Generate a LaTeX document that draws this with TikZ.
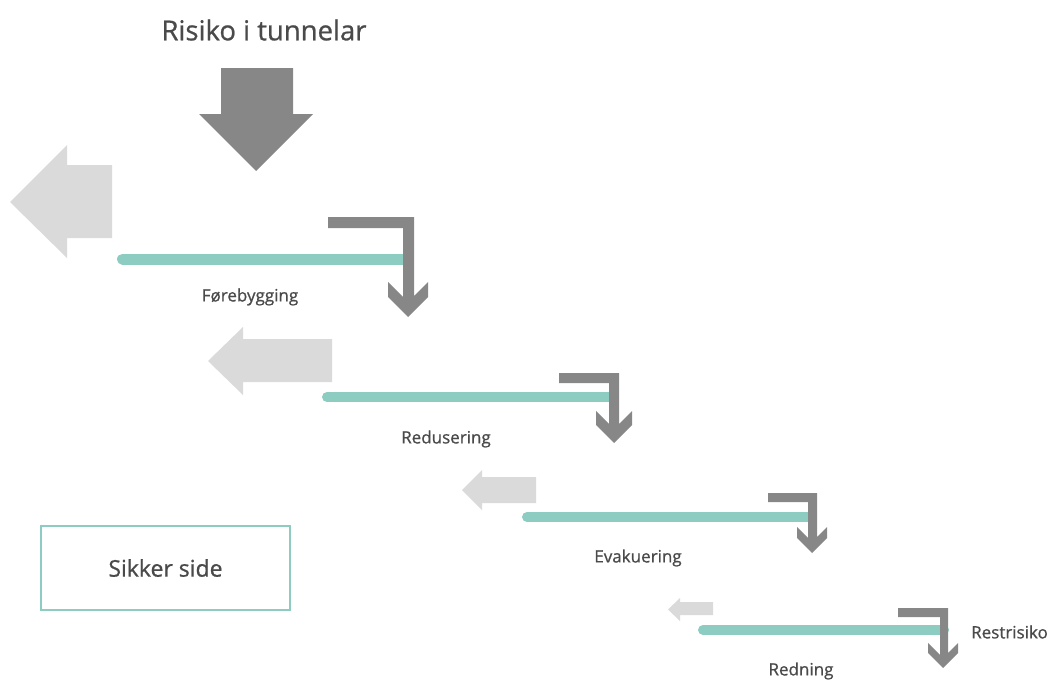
\documentclass[tikz,border=0pt]{standalone}
\usepackage{fontspec}
\setmainfont{Open Sans}[BoldFont={Open Sans},BoldFeatures={FakeBold=0.8}]
\definecolor{darkarrow}{HTML}{878787}
\definecolor{lightarrow}{HTML}{DADADA}
\definecolor{trackteal}{HTML}{8DCCC1}
\definecolor{labelgray}{HTML}{4A4A4A}
\begin{document}
\begin{tikzpicture}[x=1pt,y=-1pt,
    risk/.style={fill=darkarrow},
    escape/.style={fill=lightarrow},
    track/.style={draw=trackteal,line cap=round},
    stagelabel/.style={text=labelgray,font=\fontsize{17}{20}\selectfont\bfseries,inner sep=0pt}]
                \useasboundingbox (0,0) rectangle (1052,680);
                \node[text=labelgray,font=\fontsize{27.5}{32}\selectfont\bfseries] (title) at (264,30) {Risiko i tunnelar};
                \fill[risk] (221,68) -- (293,68) -- (293,114) -- (313,114) -- (256,171) -- (199,114) -- (221,114) -- cycle;
                % stage 1
                \fill[escape] (112,165) -- (67,165) -- (67,145) -- (10,202) -- (67,258) -- (67,238) -- (112,238) -- cycle;
                \draw[track,line width=11] (122.5,259) -- (408,259);
                \fill[risk] (328,217) -- (414,217) -- (414,296) -- (428,282) -- (428,297) -- (408,317) -- (388,297) -- (388,282) -- (403,297) -- (403,228) -- (328,228) -- cycle;
                \node[stagelabel] (prevent) at (250,297) {Førebygging};
                % stage 2
                \fill[escape] (332,339) -- (243,339) -- (243,327) -- (208,361) -- (243,395) -- (243,382) -- (332,382) -- cycle;
                \draw[track,line width=10] (327,397) -- (614,397);
                \fill[risk] (559,373) -- (619,373) -- (619,424) -- (632,411) -- (632,425) -- (614,443) -- (596,425) -- (596,411) -- (609,424) -- (609,383) -- (559,383) -- cycle;
                \node[stagelabel] (reduce) at (446,439) {Redusering};
                % stage 3
                \fill[escape] (536,477) -- (482,477) -- (482,470) -- (462,490) -- (482,510) -- (482,503) -- (536,503) -- cycle;
                \draw[track,line width=10] (527,517) -- (812,517);
                \fill[risk] (768,493) -- (817,493) -- (817,537) -- (827,527) -- (827,538) -- (812,553) -- (797,538) -- (797,527) -- (808,538) -- (808,502) -- (768,502) -- cycle;
                \node[stagelabel] (evacuate) at (638,558) {Evakuering};
                % stage 4
                \fill[escape] (713,602) -- (680,602) -- (680,598) -- (668,609.5) -- (680,621) -- (680,615) -- (713,615) -- cycle;
                \draw[track,line width=10] (703,630) -- (944,630);
                \fill[risk] (898,608) -- (948,608) -- (948,653) -- (958,643) -- (958,653) -- (943,668) -- (928,653) -- (928,643) -- (940,655) -- (940,617) -- (898,617) -- cycle;
                \node[stagelabel] (rescue) at (801,671) {Redning};
                \node[stagelabel,anchor=west] (residual) at (971,632) {Restrisiko};
                % safe side
                \node[draw=trackteal,line width=2,minimum width=249,minimum height=84,text=labelgray,font=\fontsize{23}{27}\selectfont\bfseries] (safe) at (165.5,568) {Sikker side};
            \end{tikzpicture}
\end{document}
